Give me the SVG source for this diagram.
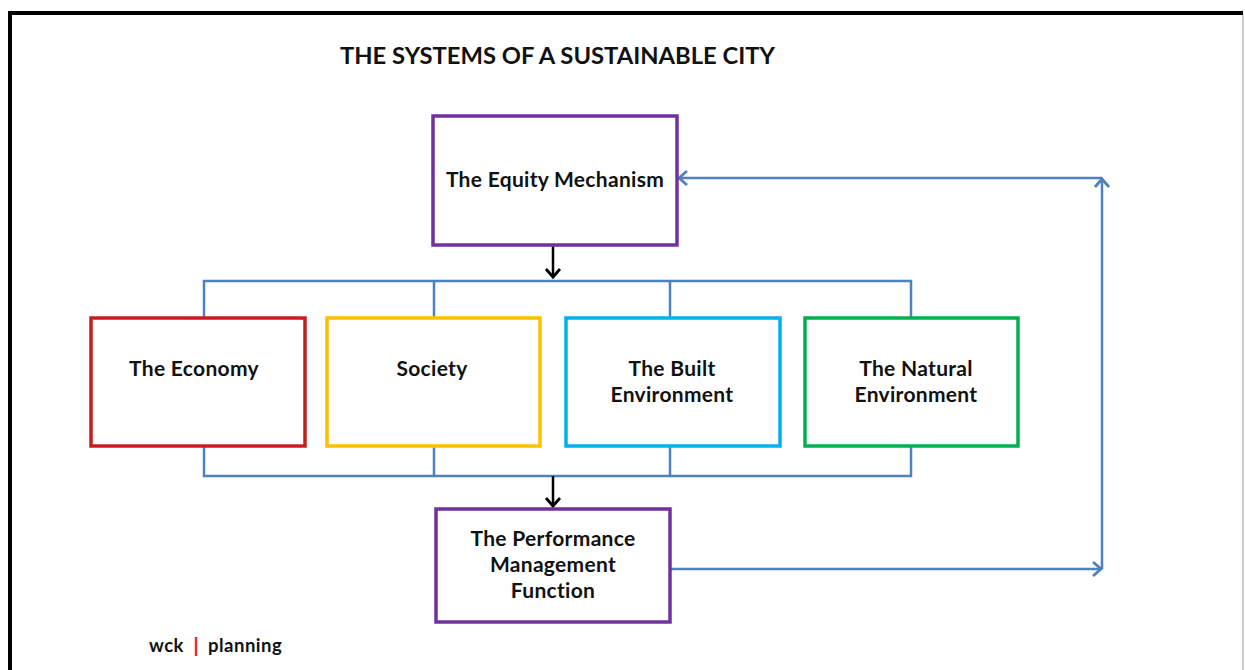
<svg xmlns="http://www.w3.org/2000/svg" width="1245" height="670" viewBox="0 0 1245 670">
<style>
text{font-family:Lato,"Open Sans","Liberation Sans",sans-serif;font-weight:700;fill:#111;}
.lbl{font-size:21px;text-anchor:middle;letter-spacing:0.3px;}
.box{fill:#fff;stroke-width:3.5;}
.bus{fill:none;stroke:#4F81BD;stroke-width:2.5;}
.blk{fill:none;stroke:#000;stroke-width:2.5;}
.ft{font-size:18.5px;letter-spacing:0.5px;}
</style>
<defs>
<marker id="ab" markerUnits="userSpaceOnUse" markerWidth="20" markerHeight="20" refX="10" refY="10" orient="auto" overflow="visible">
<path d="M2,3 L10,10 L2,17" fill="none" stroke="#4F81BD" stroke-width="2.8"/>
</marker>
<marker id="ak" markerUnits="userSpaceOnUse" markerWidth="20" markerHeight="20" refX="10" refY="10" orient="auto" overflow="visible">
<path d="M2,3 L10,10 L2,17" fill="none" stroke="#000" stroke-width="2.8"/>
</marker>
</defs>
<rect x="0" y="0" width="1245" height="670" fill="#fff"/>
<path d="M10,700 V13 H1243" fill="none" stroke="#000" stroke-width="4"/>
<line x1="1243" y1="15" x2="1243" y2="670" stroke="#bbb" stroke-width="1.5"/>
<text x="340" y="64" font-size="22" textLength="435" lengthAdjust="spacingAndGlyphs">THE SYSTEMS OF A SUSTAINABLE CITY</text>

<g id="connectors">
<polyline class="bus" points="204,318 204,281 911,281 911,318"/>
<line class="bus" x1="434" y1="281" x2="434" y2="318"/>
<line class="bus" x1="670" y1="281" x2="670" y2="318"/>
<polyline class="bus" points="204,446 204,476 911,476 911,446"/>
<line class="bus" x1="434" y1="446" x2="434" y2="476"/>
<line class="bus" x1="670" y1="446" x2="670" y2="476"/>
<line class="blk" x1="553" y1="246" x2="553" y2="277" marker-end="url(#ak)"/>
<line class="blk" x1="553" y1="476" x2="553" y2="506" marker-end="url(#ak)"/>
<line class="bus" x1="671" y1="569" x2="1101" y2="569" marker-end="url(#ab)"/>
<line class="bus" x1="1102" y1="569" x2="1102" y2="179" marker-end="url(#ab)"/>
<line class="bus" x1="1102" y1="178" x2="679" y2="178" marker-end="url(#ab)"/>
</g>

<g id="equity">
<rect class="box" x="433" y="116" width="244" height="129" stroke="#7030A0"/>
<text class="lbl" x="555" y="187">The Equity Mechanism</text>
</g>
<g id="economy">
<rect class="box" x="91" y="318" width="214" height="128" stroke="#C0201F"/>
<text class="lbl" x="194" y="376">The Economy</text>
</g>
<g id="society">
<rect class="box" x="327" y="318" width="213" height="128" stroke="#FFC000"/>
<text class="lbl" x="432" y="376">Society</text>
</g>
<g id="built">
<rect class="box" x="566" y="318" width="214" height="128" stroke="#00B0F0"/>
<text class="lbl" x="672" y="376">The Built</text>
<text class="lbl" x="672" y="402">Environment</text>
</g>
<g id="natural">
<rect class="box" x="805" y="318" width="213" height="128" stroke="#00B050"/>
<text class="lbl" x="916" y="376">The Natural</text>
<text class="lbl" x="916" y="402">Environment</text>
</g>
<g id="performance">
<rect class="box" x="436" y="509" width="234" height="113" stroke="#7030A0"/>
<text class="lbl" x="553" y="546">The Performance</text>
<text class="lbl" x="553" y="572">Management</text>
<text class="lbl" x="553" y="598">Function</text>
</g>
<g id="footer">
<text class="ft" x="149" y="652">wck</text>
<line x1="196" y1="637" x2="196" y2="656" stroke="#E8312F" stroke-width="2.5"/>
<text class="ft" x="208" y="652">planning</text>
</g>
</svg>
